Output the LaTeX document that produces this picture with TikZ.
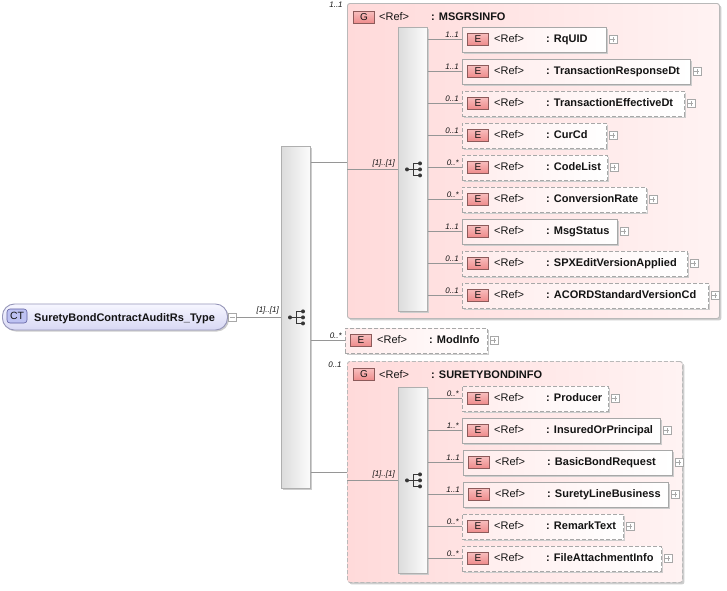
\documentclass[tikz,border=0pt]{standalone}
\usepackage{fontspec}
\setmainfont{Liberation Sans}
\usetikzlibrary{shadows}
\definecolor{grpL}{RGB}{255,218,218}
\definecolor{grpR}{RGB}{255,243,243}
\definecolor{grpBorder}{RGB}{185,185,185}
\definecolor{elL}{RGB}{255,236,236}
\definecolor{elR}{RGB}{255,255,255}
\definecolor{elBorder}{RGB}{168,168,168}
\definecolor{badgeTop}{RGB}{248,190,190}
\definecolor{badgeBot}{RGB}{238,140,140}
\definecolor{badgeBorder}{RGB}{140,90,90}
\definecolor{barL}{RGB}{220,220,220}
\definecolor{barR}{RGB}{252,252,252}
\definecolor{barBorder}{RGB}{175,175,175}
\definecolor{lineGray}{RGB}{150,150,150}
\definecolor{ctTop}{RGB}{246,246,255}
\definecolor{ctBot}{RGB}{216,216,244}
\definecolor{ctBorder}{RGB}{150,150,185}
\definecolor{ctBadge}{RGB}{190,194,242}
\definecolor{ctBadgeBorder}{RGB}{95,95,160}
\definecolor{shadowGray}{RGB}{205,205,205}
\definecolor{iconGray}{RGB}{55,55,55}
\definecolor{txtDark}{RGB}{20,20,20}

\newcommand\xsdel[8]{%
  \node[elbox,#6,minimum width={(#4-#2)*1pt},anchor=west] (#1) at (#2,#3) {};
  \node[ebadge] at ([xshift=16pt,yshift=0.5pt]#1.west) {E};
  \node[reftxt] at ([xshift=32pt,yshift=-3pt]#1.west) {<Ref>};
  \node[nametxt] at ([xshift=84pt,yshift=-3pt]#1.west) {: #5};
  \node[pbox] (#1-p) at ([xshift=6pt]#1.east) {};
  \draw[conn] (#8.east |- #1.west) -- (#1.west);
  \node[card] at ([xshift=-3pt,yshift=1.5pt]#1.west) {#7};
}
\newcommand\seqicon[1]{%
  \fill[iconGray] ([xshift=9pt]#1.west) circle (2pt);
  \draw[iconline] ([xshift=9pt]#1.west) -- ([xshift=15pt]#1.west);
  \draw[iconline] ([xshift=15pt,yshift=6pt]#1.west) -- ([xshift=15pt,yshift=-6pt]#1.west);
  \foreach \s in {6,0,-6} {%
    \draw[iconline] ([xshift=15pt,yshift=\s pt]#1.west) -- ([xshift=22pt,yshift=\s pt]#1.west);
    \fill[iconGray] ([xshift=22pt,yshift=\s pt]#1.west) circle (2pt);}
}

\tikzset{
  conn/.style={draw=lineGray, line width=0.7pt},
  iconline/.style={draw=iconGray, line width=0.9pt},
  grpbox/.style={draw=grpBorder, line width=0.9pt, left color=grpL, right color=grpR,
    rounded corners=2.5pt, inner sep=0pt,
    drop shadow={shadow xshift=2pt,shadow yshift=-2pt,fill=shadowGray,opacity=1}},
  grpdash/.style={dash pattern=on 4pt off 2pt},
  elbox/.style={draw=elBorder, line width=0.9pt, left color=elL, right color=elR,
    inner sep=0pt, minimum height=25pt,
    drop shadow={shadow xshift=1.5pt,shadow yshift=-1.5pt,fill=shadowGray,opacity=1}},
  soliddraw/.style={solid},
  dashdraw/.style={dash pattern=on 4pt off 2pt},
  ebadge/.style={draw=badgeBorder, line width=0.6pt, top color=badgeTop, bottom color=badgeBot,
    minimum width=21pt, minimum height=12pt, inner sep=0pt, text=txtDark,
    font=\fontsize{10}{12}\selectfont},
  ctbox/.style={draw=ctBorder, line width=0.9pt, top color=ctTop, bottom color=ctBot,
    rounded corners=12pt, inner sep=0pt,
    drop shadow={shadow xshift=1.5pt,shadow yshift=-1.5pt,fill=shadowGray,opacity=1}},
  ctbadge/.style={draw=ctBadgeBorder, line width=0.6pt, fill=ctBadge, rounded corners=3pt,
    minimum width=20pt, minimum height=14pt, inner sep=0pt, text=txtDark,
    font=\fontsize{10.5}{12}\selectfont},
  seqbar/.style={draw=barBorder, line width=0.8pt, left color=barL, right color=barR,
    inner sep=0pt,
    drop shadow={shadow xshift=1.5pt,shadow yshift=-1.5pt,fill=shadowGray,opacity=1}},
  pmbox/.style={draw=elBorder, line width=0.5pt, fill=white, minimum size=8pt, inner sep=0pt},
  pbox/.style={pmbox, path picture={\draw[elBorder,line width=0.5pt]
      ([xshift=-2.5pt]path picture bounding box.center) -- ([xshift=2.5pt]path picture bounding box.center)
      ([yshift=-2.5pt]path picture bounding box.center) -- ([yshift=2.5pt]path picture bounding box.center);}},
  mbox/.style={pmbox, path picture={\draw[elBorder,line width=0.5pt]
      ([xshift=-2.5pt]path picture bounding box.center) -- ([xshift=2.5pt]path picture bounding box.center);}},
  reftxt/.style={inner sep=0pt, anchor=base west, text=txtDark, font=\fontsize{11}{13}\selectfont},
  nametxt/.style={inner sep=0pt, anchor=base west, text=txtDark, font=\fontsize{11}{13}\selectfont\bfseries},
  card/.style={inner sep=0pt, anchor=south east, text=txtDark, font=\fontsize{8}{9}\selectfont\itshape},
}

\begin{document}
\begin{tikzpicture}[x=1pt,y=-1pt]
\useasboundingbox[fill=white] (0,0) rectangle (727,590);

% root complex type
\node[ctbox, minimum width=225pt, minimum height=26pt, anchor=west] (ct) at (2,317) {};
\node[ctbadge] (ctb) at (17,316) {CT};
\node[nametxt] (ctname) at (34,321) {SuretyBondContractAuditRs\_Type};
\node[mbox] (ctm) at (232,317) {};

% outer sequence
\node[seqbar, minimum width=29pt, minimum height=342pt, anchor=north west] (seq0) at (281,146) {};
\seqicon{seq0}
\draw[conn] (ctm.east) -- (ctm.east -| seq0.west);
\node[card] (c0) at (279,314.5) {[1]..[1]};

% group MSGRSINFO
\coordinate (g1in) at (347,162);
\draw[conn] (seq0.east |- g1in) -- (g1in);
\node[grpbox, minimum width=372pt, minimum height=315pt, anchor=north west] (g1) at (347,3) {};
\node[ebadge] (g1b) at (364,17) {G};
\node[reftxt] (g1r) at (379,20.5) {<Ref>};
\node[nametxt] (g1n) at (431,20.5) {: MSGRSINFO};
\node[card, anchor=center] (g1c) at (336,5) {1..1};
\node[seqbar, minimum width=29pt, minimum height=284pt, anchor=north west] (b1) at (398,27) {};
\seqicon{b1}
\draw[conn] (g1.west |- b1.west) -- (b1.west);
\node[card] (g1k) at (395,167.5) {[1]..[1]};

\xsdel{rq}{462}{39.5}{606}{RqUID}{soliddraw}{1..1}{b1}
\xsdel{trd}{462}{71.5}{690}{TransactionResponseDt}{soliddraw}{1..1}{b1}
\xsdel{ted}{462}{103.5}{684}{TransactionEffectiveDt}{dashdraw}{0..1}{b1}
\xsdel{cur}{462}{135.5}{606}{CurCd}{dashdraw}{0..1}{b1}
\xsdel{cl}{462}{167.5}{607}{CodeList}{dashdraw}{0..*}{b1}
\xsdel{cr}{462}{199.5}{646}{ConversionRate}{dashdraw}{0..*}{b1}
\xsdel{ms}{462}{231.5}{617}{MsgStatus}{soliddraw}{1..1}{b1}
\xsdel{spx}{462}{263.5}{687}{SPXEditVersionApplied}{dashdraw}{0..1}{b1}
\xsdel{acord}{462}{295.5}{708}{ACORDStandardVersionCd}{dashdraw}{0..1}{b1}

% ModInfo
\xsdel{mod}{345}{340.5}{487}{ModInfo}{dashdraw}{0..*}{seq0}

% group SURETYBONDINFO
\coordinate (g2in) at (347,472);
\draw[conn] (seq0.east |- g2in) -- (g2in);
\node[grpbox, grpdash, minimum width=335pt, minimum height=221pt, anchor=north west] (g2) at (347,361) {};
\node[ebadge] (g2b) at (364,374.5) {G};
\node[reftxt] (g2r) at (379,378) {<Ref>};
\node[nametxt] (g2n) at (431,378) {: SURETYBONDINFO};
\node[card, anchor=center] (g2c) at (335,365) {0..1};
\node[seqbar, minimum width=29pt, minimum height=186pt, anchor=north west] (b2) at (398,387) {};
\seqicon{b2}
\draw[conn] (g2.west |- b2.west) -- (b2.west);
\node[card] (g2k) at (395,478.5) {[1]..[1]};

\xsdel{prod}{462}{398.5}{608}{Producer}{dashdraw}{0..*}{b2}
\xsdel{ins}{462}{430.5}{660}{InsuredOrPrincipal}{soliddraw}{1..*}{b2}
\xsdel{bbr}{463}{462.5}{672}{BasicBondRequest}{soliddraw}{1..1}{b2}
\xsdel{slb}{463}{494.5}{668}{SuretyLineBusiness}{soliddraw}{1..1}{b2}
\xsdel{rt}{462}{526.5}{623}{RemarkText}{dashdraw}{0..*}{b2}
\xsdel{fai}{462}{558.5}{661}{FileAttachmentInfo}{dashdraw}{0..*}{b2}
\end{tikzpicture}
\end{document}
